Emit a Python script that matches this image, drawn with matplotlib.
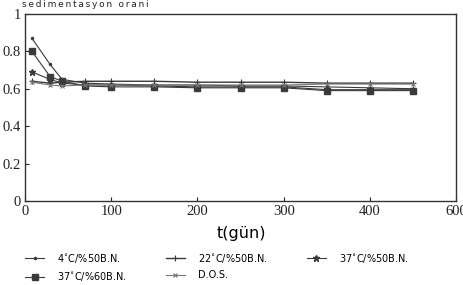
import matplotlib
matplotlib.use("Agg")
import matplotlib.pyplot as plt

# sampling days and sedimentation ratios
days = [8, 29, 43, 70, 100, 150, 200, 250, 300, 350, 400, 450]
s4_50 = [0.87, 0.73, 0.65, 0.63, 0.625, 0.62, 0.62, 0.615, 0.615, 0.61, 0.605, 0.6]
s22_50 = [0.64, 0.63, 0.635, 0.64, 0.64, 0.64, 0.635, 0.635, 0.635, 0.63, 0.63, 0.63]
s37_50 = [0.69, 0.65, 0.63, 0.62, 0.62, 0.615, 0.61, 0.61, 0.61, 0.595, 0.595, 0.595]
s37_60 = [0.80, 0.665, 0.64, 0.615, 0.61, 0.61, 0.605, 0.605, 0.605, 0.59, 0.59, 0.59]
dos = [0.635, 0.62, 0.615, 0.62, 0.62, 0.62, 0.62, 0.62, 0.62, 0.625, 0.625, 0.625]

labels = ["4$^{\\circ}$C/%50B.N.", "22$^{\\circ}$C/%50B.N.", "37$^{\\circ}$C/%50B.N.",
          "37$^{\\circ}$C/%60B.N.", "D.O.S."]
# the scanned axis ends at 500 but its last label is printed as 600
x_ticks = [0, 100, 200, 300, 400, 500]
x_labels = ["0", "100", "200", "300", "400", "600"]
y_ticks = [0, 0.2, 0.4, 0.6, 0.8, 1]
y_labels = ["0", "0.2", "0.4", "0.6", "0.8", "1"]

fig = plt.figure(figsize=(4.64, 2.85), dpi=100)
ax = fig.add_axes([0.054, 0.295, 0.929, 0.656])

c = "#3a3a3a"
lines = []
lines += ax.plot(days, s4_50, color=c, lw=0.8, marker=".", ms=3)
lines += ax.plot(days, s22_50, color=c, lw=1.0, marker="+", ms=5, mew=0.8)
lines += ax.plot(days, s37_50, color=c, lw=0.8, marker="*", ms=5)
lines += ax.plot(days, s37_60, color=c, lw=0.8, marker="s", ms=4)
lines += ax.plot(days, dos, color="#777777", lw=0.8, marker="x", ms=3.5, mew=0.8)

ax.set_xlim(0, 500)
ax.set_ylim(0, 1)
ax.set_xticks(x_ticks)
ax.set_yticks(y_ticks)
ax.set_xticklabels(x_labels)
ax.set_yticklabels(y_labels)
ax.tick_params(direction="in", length=3, width=0.8, colors="#222222",
               labelsize=10.5, pad=3)
for lab in ax.get_xticklabels() + ax.get_yticklabels():
    lab.set_family("Liberation Serif")
for sp in ax.spines.values():
    sp.set_linewidth(1.0)
    sp.set_color("#333333")

fig.text(0.047, 0.985, "\u2009".join("sedimentasyon orani"), fontsize=6.5,
         va="center", ha="left", color="#222222")
fig.text(0.52, 0.182, "t(gün)", fontsize=11.5, ha="center", va="center")

# legend fills column-wise, so reorder to get the reference's row layout
order = [0, 3, 1, 4, 2]
fig.legend([lines[i] for i in order], [labels[i] for i in order],
           loc="lower left", bbox_to_anchor=(0.035, -0.024),
           ncol=3, frameon=False, fontsize=7, handlelength=2.0,
           columnspacing=4.0, labelspacing=0.55, handletextpad=1.3)

fig.savefig("out.png", dpi=100)
